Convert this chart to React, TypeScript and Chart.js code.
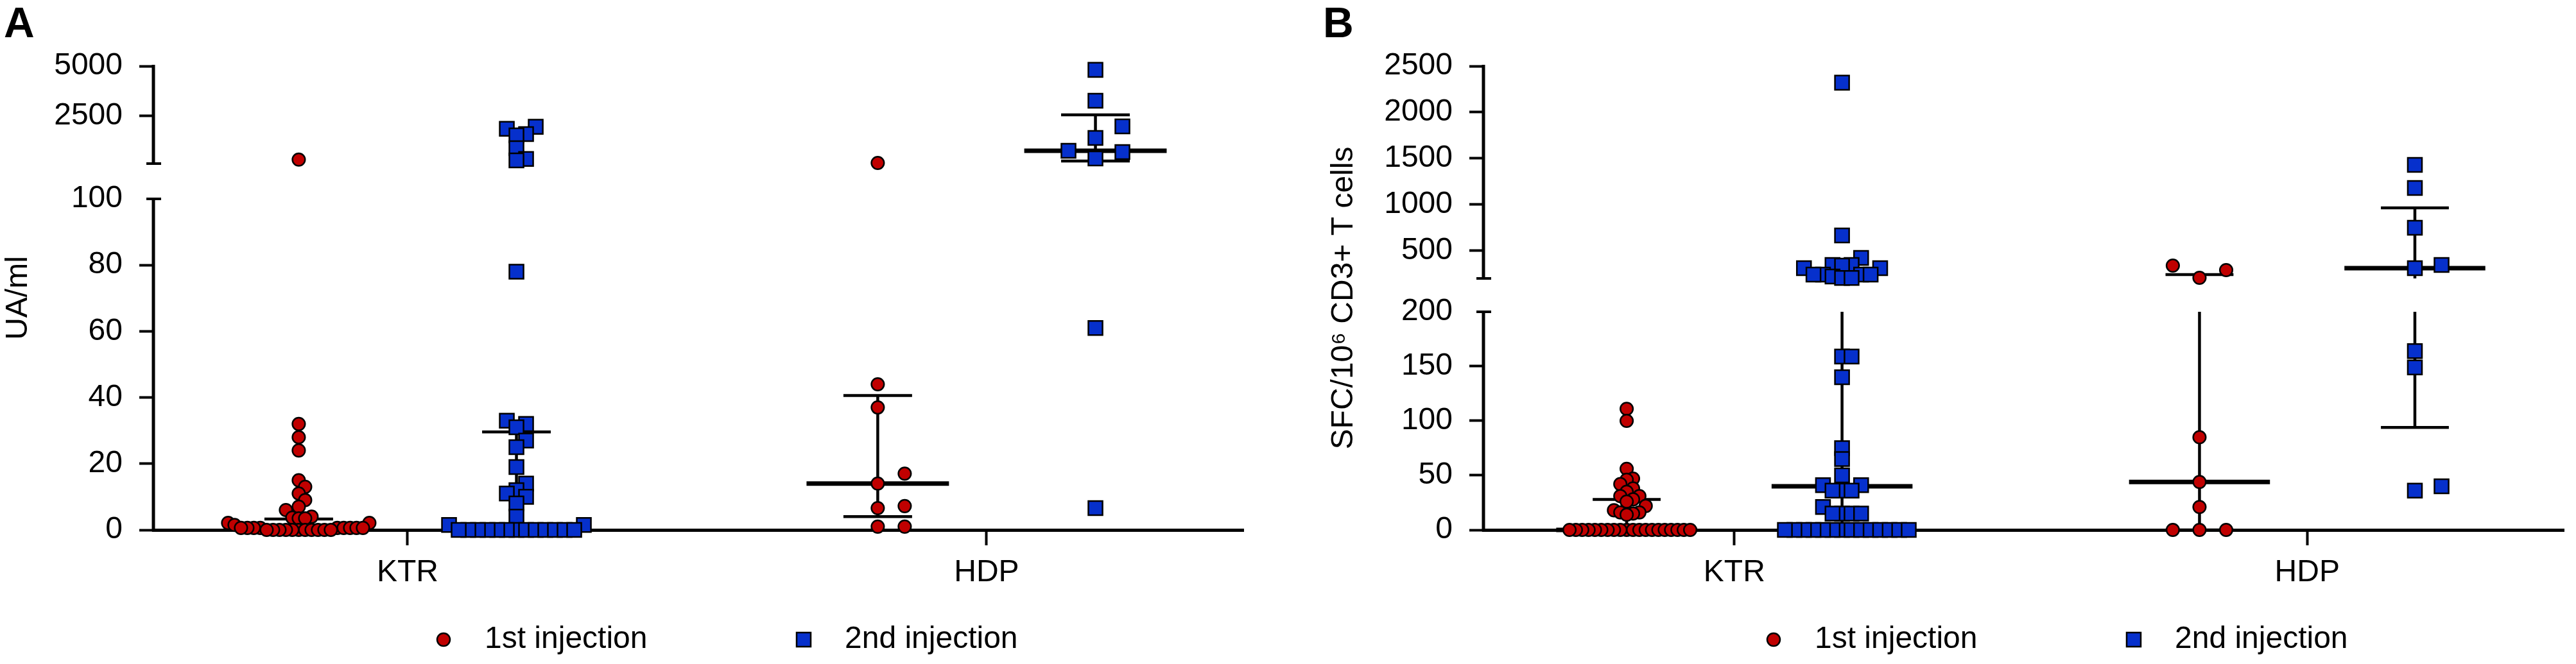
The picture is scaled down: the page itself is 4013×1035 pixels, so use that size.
import React, { useEffect, useRef } from 'react';
import { Chart, LinearScale, registerables } from 'chart.js';

Chart.register(...registerables);

// ---------------- data ----------------
const categories = ['KTR', 'HDP'];
const seriesLabels = ['1st injection', '2nd injection'];

// Panel A : UA/ml
const aKtr1st = [300, 32, 28, 24, 15, 13, 11, 9, 7, 6, 4, 3.7, 3.5, 3.5, 2.1, 2.1, 1.5, 0.6, 0.6, 0.6, 0.6, 0.6, 0.6, 0.6, 0.6, 0.6, 0, 0, 0, 0, 0, 0, 0, 0, 0, 0, 0];
const aKtr2nd = [1950, 1850, 1580, 1520, 870, 330, 260, 78, 33, 32, 31, 27, 25, 19, 14, 12, 11, 10, 8, 4, 1.5, 1.5, 0, 0, 0, 0, 0, 0, 0, 0, 0, 0, 0, 0, 0];
const aHdp1st = [132, 44, 37, 17, 14, 7.2, 6.6, 1, 1];
const aHdp2nd = [4810, 3260, 1970, 1390, 745, 680, 358, 61, 6.6];
const aMedian1st = [0.6, 14];
const aQ1_1st = [0, 4];
const aQ3_1st = [3.3, 40.6];
const aMedian2nd = [1, 745];
const aQ1_2nd = [0, 230];
const aQ3_2nd = [29.6, 2550];
const aTicks = [0, 20, 40, 60, 80, 100, 2500, 5000];

// Panel B : SFC/10^6 CD3+ T cells
const bKtr1st = [111, 100, 56, 47, 46, 42, 38, 35, 31, 31, 28, 26, 22, 18, 16, 16, 15, 14, 0, 0, 0, 0, 0, 0, 0, 0, 0, 0, 0, 0, 0, 0, 0, 0, 0, 0, 0, 0];
const bKtr2nd = [2320, 665, 422, 346, 346, 339, 311, 311, 242, 242, 242, 242, 221, 205, 205, 159, 159, 140, 75, 65, 50, 41, 41, 36, 36, 36, 21, 15, 15, 15, 15, 0, 0, 0, 0, 0, 0, 0, 0, 0, 0, 0, 0, 0, 0];
const bHdp1st = [339, 290, 207, 85, 44, 21, 0, 0, 0];
const bHdp2nd = [1430, 1180, 749, 346, 311, 164, 149, 40, 36];
const bMedian1st = [0, 44];
const bQ1_1st = [0, 0];
const bQ3_1st = [28, 242];
const bMedian2nd = [40, 311];
const bQ1_2nd = [0, 94];
const bQ3_2nd = [242, 964];
const bTicks = [0, 50, 100, 150, 200, 500, 1000, 1500, 2000, 2500];

// ---------------- style ----------------
const FONT = "'Liberation Sans', Arial, Helvetica, sans-serif";
const RED = '#C00000';
const BLUE = '#0630CC';
const H = 1035;
const NOMINAL_H = 723; // plot height, used for swarm spacing only
const PX_PER_X = 902; // approx pixels per category unit
const GROUP_OFF = 0.188;
const MEDIAN_HALF = 0.123;
const CAP_HALF = 0.0593;

type Brk = { lowMax: number; highMin: number; highMax: number; lowFrac: number; gapFrac: number };
const breakA: Brk = { lowMax: 100, highMin: 100, highMax: 5000, lowFrac: 0.7137, gapFrac: 0.0761 };
const breakB: Brk = { lowMax: 200, highMin: 200, highMax: 2500, lowFrac: 0.4703, gapFrac: 0.0719 };

function fracOf(v: number, b: Brk): number {
  const up = 1 - b.lowFrac - b.gapFrac;
  if (v <= b.lowMax) return (v / b.lowMax) * b.lowFrac;
  const t = (Math.max(v, b.highMin) - b.highMin) / (b.highMax - b.highMin);
  return b.lowFrac + b.gapFrac + t * up;
}
function valueOfFrac(f: number, b: Brk): number {
  const up = 1 - b.lowFrac - b.gapFrac;
  if (f <= b.lowFrac) return (f / b.lowFrac) * b.lowMax;
  if (f < b.lowFrac + b.gapFrac) return b.lowMax;
  return b.highMin + ((f - b.lowFrac - b.gapFrac) / up) * (b.highMax - b.highMin);
}

function makeBrokenScale(scaleId: string, brk: Brk, tickValues: number[]) {
  class BrokenScale extends (LinearScale as any) {
    static id = scaleId;
    static defaults = { ...(LinearScale as any).defaults };
    determineDataLimits() {
      this.min = 0;
      this.max = brk.highMax;
    }
    buildTicks() {
      this.start = this.min;
      this.end = this.max;
      return tickValues.map((v) => ({ value: v }));
    }
    getPixelForValue(v: number) {
      if (v === null || v === undefined || Number.isNaN(v)) return NaN;
      return this.bottom - fracOf(v, brk) * (this.bottom - this.top);
    }
    getValueForPixel(p: number) {
      return valueOfFrac((this.bottom - p) / (this.bottom - this.top), brk);
    }
  }
  return BrokenScale;
}

const ScaleA = makeBrokenScale('brokenA', breakA, aTicks);
const ScaleB = makeBrokenScale('brokenB', breakB, bTicks);
Chart.register(ScaleA as any, ScaleB as any);

function swarm(values: number[], center: number, dense: boolean, square: boolean, brk: Brk) {
  const step = dense ? (square ? 15 : 10) : 42;
  const minDy = dense ? (square ? 16 : 14) : 22;
  const order = values.map((_, i) => i).sort((a, b) => values[a] - values[b]);
  const placed: { slot: number; py: number }[] = [];
  const out: { x: number; y: number }[] = new Array(values.length);
  for (const i of order) {
    const py = fracOf(values[i], brk) * NOMINAL_H;
    let slot = 0;
    for (let n = 0; n < 200; n++) {
      const s = n === 0 ? 0 : n % 2 === 1 ? (n + 1) / 2 : -n / 2;
      if (!placed.some((p) => p.slot === s && Math.abs(p.py - py) < minDy)) {
        slot = s;
        break;
      }
    }
    placed.push({ slot, py });
    out[i] = { x: center + (slot * step) / PX_PER_X, y: values[i] };
  }
  return out;
}

function summaryLines(med: number[], q1: number[], q3: number[], off: number, brk: Brk) {
  const medians: any[] = [];
  const iqr: any[] = [];
  med.forEach((m, i) => {
    const c = i + 1 + off;
    medians.push({ x: c - MEDIAN_HALF, y: m }, { x: c + MEDIAN_HALF, y: m }, { x: c, y: null });
    iqr.push({ x: c - CAP_HALF, y: q1[i] }, { x: c + CAP_HALF, y: q1[i] }, { x: c, y: null });
    iqr.push({ x: c - CAP_HALF, y: q3[i] }, { x: c + CAP_HALF, y: q3[i] }, { x: c, y: null });
    if (q1[i] <= brk.lowMax && q3[i] > brk.lowMax) {
      iqr.push({ x: c, y: q1[i] }, { x: c, y: brk.lowMax }, { x: c, y: null });
      iqr.push({ x: c, y: brk.highMin + 1e-6 }, { x: c, y: q3[i] }, { x: c, y: null });
    } else {
      iqr.push({ x: c, y: q1[i] }, { x: c, y: q3[i] }, { x: c, y: null });
    }
  });
  return { medians, iqr };
}

type Spec = {
  letter: string;
  yTitle: string;
  scaleType: string;
  brk: Brk;
  first: number[][];
  second: number[][];
  med1: number[]; q11: number[]; q31: number[];
  med2: number[]; q12: number[]; q32: number[];
  xMin: number; xMax: number;
  padLeft: number; padRight: number; yWidth: number;
  width: number; left: number;
};

function brokenAxisPlugin(brk: Brk) {
  return {
    id: 'brokenAxis',
    afterDraw(chart: any) {
      const s = chart.scales.y;
      const ctx = chart.ctx;
      const x = s.right;
      const yBottom = s.getPixelForValue(0);
      const yLowTop = s.getPixelForValue(brk.lowMax);
      const yUpBottom = s.getPixelForValue(brk.highMin + 1e-6);
      const yTop = s.getPixelForValue(brk.highMax);
      ctx.save();
      ctx.strokeStyle = '#000';
      ctx.lineWidth = 5;
      ctx.lineCap = 'butt';
      ctx.beginPath();
      ctx.moveTo(x, yBottom + 2.5);
      ctx.lineTo(x, yLowTop - 2);
      ctx.moveTo(x, yUpBottom + 2);
      ctx.lineTo(x, yTop - 2);
      ctx.stroke();
      ctx.lineWidth = 4;
      ctx.beginPath();
      ctx.moveTo(x - 11, yLowTop);
      ctx.lineTo(x + 12, yLowTop);
      ctx.moveTo(x - 11, yUpBottom);
      ctx.lineTo(x + 12, yUpBottom);
      ctx.stroke();
      ctx.restore();
    },
  };
}

function decorPlugin(letter: string, letterX: number) {
  return {
    id: 'decor',
    afterDraw(chart: any) {
      const ctx = chart.ctx;
      const left = chart.chartArea.left;
      ctx.save();
      ctx.fillStyle = '#000';
      ctx.textAlign = 'left';
      ctx.textBaseline = 'alphabetic';
      ctx.font = `bold 66px ${FONT}`;
      ctx.fillText(letter, letterX, 58);
      const entries = chart.data.datasets.filter((d: any) => d.legendEntry);
      let mx = left + 452;
      const my = 997;
      ctx.font = `48px ${FONT}`;
      entries.forEach((d: any) => {
        ctx.fillStyle = d.pointBackgroundColor;
        ctx.strokeStyle = '#000';
        ctx.lineWidth = 2.5;
        ctx.beginPath();
        if (d.pointStyle === 'circle') {
          ctx.arc(mx, my, 10, 0, Math.PI * 2);
        } else {
          ctx.rect(mx - 11, my - 11, 22, 22);
        }
        ctx.fill();
        ctx.stroke();
        ctx.fillStyle = '#000';
        ctx.fillText(d.label, mx + 64, 1010);
        mx += 561;
      });
      ctx.restore();
    },
  };
}

function buildConfig(p: Spec): any {
  const pts1 = [
    ...swarm(p.first[0], 1 - GROUP_OFF, p.first[0].length > 15, false, p.brk),
    ...swarm(p.first[1], 2 - GROUP_OFF, p.first[1].length > 15, false, p.brk),
  ];
  const pts2 = [
    ...swarm(p.second[0], 1 + GROUP_OFF, p.second[0].length > 15, true, p.brk),
    ...swarm(p.second[1], 2 + GROUP_OFF, p.second[1].length > 15, true, p.brk),
  ];
  const s1 = summaryLines(p.med1, p.q11, p.q31, -GROUP_OFF, p.brk);
  const s2 = summaryLines(p.med2, p.q12, p.q32, GROUP_OFF, p.brk);
  const tickFont = { family: FONT, size: 48 };
  return {
    type: 'scatter',
    data: {
      datasets: [
        {
          type: 'scatter',
          label: seriesLabels[0],
          legendEntry: true,
          data: pts1,
          pointStyle: 'circle',
          pointRadius: 9.8,
          pointBackgroundColor: RED,
          pointBorderColor: '#000',
          pointBorderWidth: 2.5,
          order: 1,
          clip: false,
        },
        {
          type: 'scatter',
          label: seriesLabels[1],
          legendEntry: true,
          data: pts2,
          pointStyle: 'rect',
          pointRadius: 15.6,
          pointBackgroundColor: BLUE,
          pointBorderColor: '#000',
          pointBorderWidth: 2.5,
          order: 0,
          clip: false,
        },
        {
          type: 'line',
          label: 'median',
          data: [...s1.medians, ...s2.medians],
          borderColor: '#000',
          borderWidth: 7,
          pointRadius: 0,
          spanGaps: false,
          order: 5,
          clip: false,
        },
        {
          type: 'line',
          label: 'interquartile range',
          data: [...s1.iqr, ...s2.iqr],
          borderColor: '#000',
          borderWidth: 4.5,
          pointRadius: 0,
          spanGaps: false,
          order: 6,
          clip: false,
        },
      ],
    },
    options: {
      responsive: false,
      devicePixelRatio: 1,
      animation: false,
      events: [],
      layout: { padding: { left: p.padLeft, right: p.padRight, top: 103, bottom: 0 } },
      plugins: { legend: { display: false }, tooltip: { enabled: false } },
      scales: {
        x: {
          type: 'linear',
          min: p.xMin,
          max: p.xMax,
          afterBuildTicks: (s: any) => {
            s.ticks = categories.map((_, i) => ({ value: i + 1 }));
          },
          afterFit: (s: any) => {
            s.height = H - 826;
          },
          ticks: {
            autoSkip: false,
            maxRotation: 0,
            callback: (v: number) => categories[Math.round(v) - 1] ?? '',
            font: tickFont,
            color: '#000',
            padding: 14,
          },
          grid: { drawOnChartArea: false, drawTicks: true, tickLength: 24, tickWidth: 4, tickColor: '#000', color: '#000' },
          border: { display: true, color: '#000', width: 5 },
        },
        y: {
          type: p.scaleType,
          position: 'left',
          afterFit: (s: any) => {
            s.width = p.yWidth;
          },
          ticks: {
            autoSkip: false,
            callback: (v: number) => String(v),
            font: tickFont,
            color: '#000',
            padding: 26,
          },
          grid: {
            drawOnChartArea: false,
            drawTicks: true,
            tickLength: 22,
            tickWidth: 4,
            color: '#000',
            tickColor: (c: any) => (c.tick && c.tick.value === p.brk.lowMax ? 'rgba(0,0,0,0)' : '#000'),
          },
          border: { display: false },
          title: { display: true, text: p.yTitle, font: { family: FONT, size: 48 }, color: '#000', padding: 0 },
        },
      },
    },
    plugins: [brokenAxisPlugin(p.brk), decorPlugin(p.letter, p.letter === 'A' ? 6 : 61)],
  };
}

const specA: Spec = {
  letter: 'A',
  yTitle: 'UA/ml',
  scaleType: 'brokenA',
  brk: breakA,
  first: [aKtr1st, aHdp1st],
  second: [aKtr2nd, aHdp2nd],
  med1: aMedian1st, q11: aQ1_1st, q31: aQ3_1st,
  med2: aMedian2nd, q12: aQ1_2nd, q32: aQ3_2nd,
  xMin: 0.561, xMax: 2.4435,
  padLeft: 0, padRight: 63, yWidth: 239,
  width: 2000, left: 0,
};

const specB: Spec = {
  letter: 'B',
  yTitle: 'SFC/10\u2076 CD3+ T cells',
  scaleType: 'brokenB',
  brk: breakB,
  first: [bKtr1st, bHdp1st],
  second: [bKtr2nd, bHdp2nd],
  med1: bMedian1st, q11: bQ1_1st, q31: bQ3_1st,
  med2: bMedian2nd, q12: bQ1_2nd, q32: bQ3_2nd,
  xMin: 0.562, xMax: 2.449,
  padLeft: 65, padRight: 0, yWidth: 246,
  width: 2013, left: 2000,
};

function Panel({ spec }: { spec: Spec }) {
  const ref = useRef<HTMLCanvasElement>(null);
  useEffect(() => {
    if (!ref.current) return;
    const chart = new Chart(ref.current, buildConfig(spec));
    return () => chart.destroy();
  }, [spec]);
  return (
    <canvas
      ref={ref}
      width={spec.width}
      height={H}
      style={{ position: 'absolute', left: spec.left, top: 0, width: spec.width, height: H }}
    />
  );
}

export default function App() {
  return (
    <div style={{ position: 'fixed', left: 0, top: 0, width: 4013, height: H, background: '#fff', overflow: 'hidden' }}>
      <Panel spec={specA} />
      <Panel spec={specB} />
    </div>
  );
}
